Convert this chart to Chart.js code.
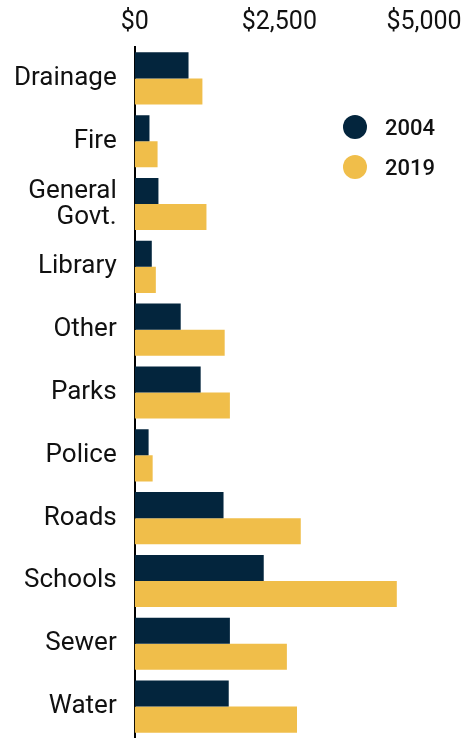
<!DOCTYPE html>
<html lang="en">

<head>
    <meta charset="UTF-8">
    <script src="https://cdn.jsdelivr.net/npm/chart.js@4.4.1/dist/chart.umd.min.js"></script>
    <title>Spending 2004 vs 2019</title>
    <style>
        body { margin: 0; background: #fff; }
        .box_chart { position: relative; width: 467px; height: 738px; }
        .legenda { position: absolute; left: 343px; top: 107px; font-family: Roboto, sans-serif; font-size: 22px; font-weight: 500; color: #111; }
        .legenda div { display: flex; align-items: center; height: 40px; }
        .legenda span.bola { display: inline-block; width: 24px; height: 24px; border-radius: 50%; margin-right: 18px; }
    </style>
</head>

<body>
    <div class="box_chart">
        <canvas id="chartGastos" width="467" height="738"></canvas>
        <!-- Legenda -->
        <div class="legenda" id="legenda"></div>
    </div>
</body>

</html>
<script>
    var categorias = ['Drainage', 'Fire', ['General', 'Govt.'], 'Library', 'Other', 'Parks', 'Police', 'Roads', 'Schools', 'Sewer', 'Water'];
    var valores2004 = [930, 255, 410, 295, 795, 1140, 240, 1535, 2230, 1645, 1625];
    var valores2019 = [1170, 395, 1240, 365, 1555, 1645, 310, 2870, 4530, 2630, 2805];
    var ticksX = [0, 2500, 5000];
    var cores = ['#03253d', '#f0be4a'];
    var anos = ['2004', '2019'];

    // legenda em html
    var leg = document.getElementById('legenda');
    anos.forEach(function (a, i) {
        leg.innerHTML += '<div><span class="bola" style="background:' + cores[i] + '"></span>' + a + '</div>';
    });

    var ctx = chartGastos.getContext('2d');
    var myChart = new Chart(ctx, {
        type: 'bar',
        data: {
            labels: categorias,
            datasets: [{
                label: anos[0],
                data: valores2004,
                backgroundColor: cores[0]
            }, {
                label: anos[1],
                data: valores2019,
                backgroundColor: cores[1]
            }]
        },
        options: {
            indexAxis: 'y',
            responsive: false,
            animation: false,
            layout: { padding: { top: -1, right: -2, left: -4, bottom: -3 } },
            categoryPercentage: 0.83,
            barPercentage: 1,
            plugins: {
                legend: { display: false },
                tooltip: { enabled: false }
            },
            scales: {
                x: {
                    position: 'top',
                    min: 0,
                    max: 5000,
                    afterBuildTicks: function (axis) {
                        axis.ticks = ticksX.map(function (v) { return { value: v }; });
                    },
                    // margem da direita fixa pro $5,000 ficar no lugar certo
                    afterFit: function (axis) {
                        axis.paddingRight = 43;
                    },
                    grid: { display: false, drawTicks: false },
                    border: { display: false },
                    ticks: {
                        padding: 9,
                        color: '#111',
                        font: { family: 'Roboto', size: 25 },
                        callback: function (v) { return '$' + v.toLocaleString('en-US'); }
                    }
                },
                y: {
                    grid: { display: false, drawTicks: false },
                    border: { display: true, color: '#000', width: 2 },
                    // tira o espaço extra em cima/baixo que o eixo reserva
                    afterFit: function (axis) {
                        axis.paddingTop = 0;
                        axis.paddingBottom = -3;
                    },
                    ticks: {
                        autoSkip: false,
                        padding: 18,
                        color: '#111',
                        font: { family: 'Roboto', size: 26, lineHeight: 1.0 }
                    }
                }
            }
        }
    });
</script>
